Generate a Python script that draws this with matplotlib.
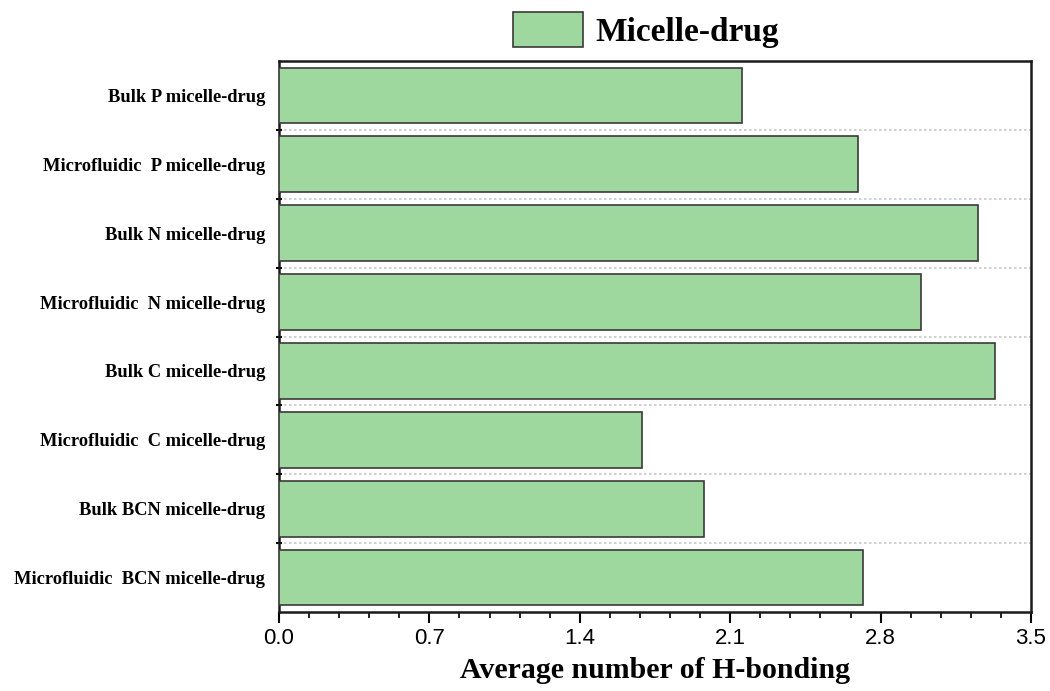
import matplotlib
matplotlib.use("Agg")
import matplotlib.pyplot as plt
from matplotlib.ticker import MultipleLocator, FixedLocator
from matplotlib.patches import Patch
import numpy as np

categories = ["Bulk P micelle-drug", "Microfluidic  P micelle-drug", "Bulk N micelle-drug",
              "Microfluidic  N micelle-drug", "Bulk C micelle-drug", "Microfluidic  C micelle-drug",
              "Bulk BCN micelle-drug", "Microfluidic  BCN micelle-drug"]
values = [2.155, 2.694, 3.253, 2.987, 3.332, 1.689, 1.978, 2.718]
series_name = "Micelle-drug"
xticks = [0.0, 0.7, 1.4, 2.1, 2.8, 3.5]

fig = plt.figure(figsize=(10.5, 6.91), dpi=100)
ax = fig.add_axes([279/1050, 1 - 612/691, (1031-279)/1050, (612-61)/691])

y = np.arange(len(categories))
ax.barh(y, values, height=0.81, color="#9fd89e", edgecolor="#3a3a3a", linewidth=1.2, zorder=3)

ax.set_ylim(len(categories) - 0.5, -0.5)
ax.set_xlim(0, 3.5)
ax.set_yticks(y)
ax.set_yticklabels(categories, fontfamily="Liberation Serif", fontweight="bold", fontsize=13.3)
ax.yaxis.set_minor_locator(FixedLocator(np.arange(0.5, len(categories) - 0.5, 1)))
ax.tick_params(axis="y", which="major", length=0, pad=10)
ax.tick_params(axis="y", which="minor", length=4, width=1.5, direction="inout")
ax.grid(axis="y", which="minor", linestyle=(0, (1.5, 1.5)), color="#c8c8c8", linewidth=1.2, zorder=0)

ax.set_xticks(xticks)
ax.set_xticklabels([f"{t:.1f}" for t in xticks], fontfamily="Liberation Sans", fontsize=16)
ax.xaxis.set_minor_locator(MultipleLocator(0.14))
ax.tick_params(axis="x", which="major", length=8, width=1.5, direction="out")
ax.tick_params(axis="x", which="minor", length=4, width=1.2, direction="out")
ax.set_xlabel("Average number of H-bonding", fontfamily="Liberation Serif", fontweight="bold",
              fontsize=21.5, labelpad=6)

for s in ax.spines.values():
    s.set_linewidth(1.8)
    s.set_color("#1a1a1a")

handle = Patch(facecolor="#9fd89e", edgecolor="#3a3a3a", linewidth=1.2)
fig.legend([handle], [series_name], loc="center", bbox_to_anchor=(646/1050, 1 - 30/691),
           frameon=False, prop={"family": "Liberation Serif", "weight": "bold", "size": 24},
           handlelength=2.1, handleheight=1.2, handletextpad=0.4)

fig.savefig("out.png", dpi=100)
